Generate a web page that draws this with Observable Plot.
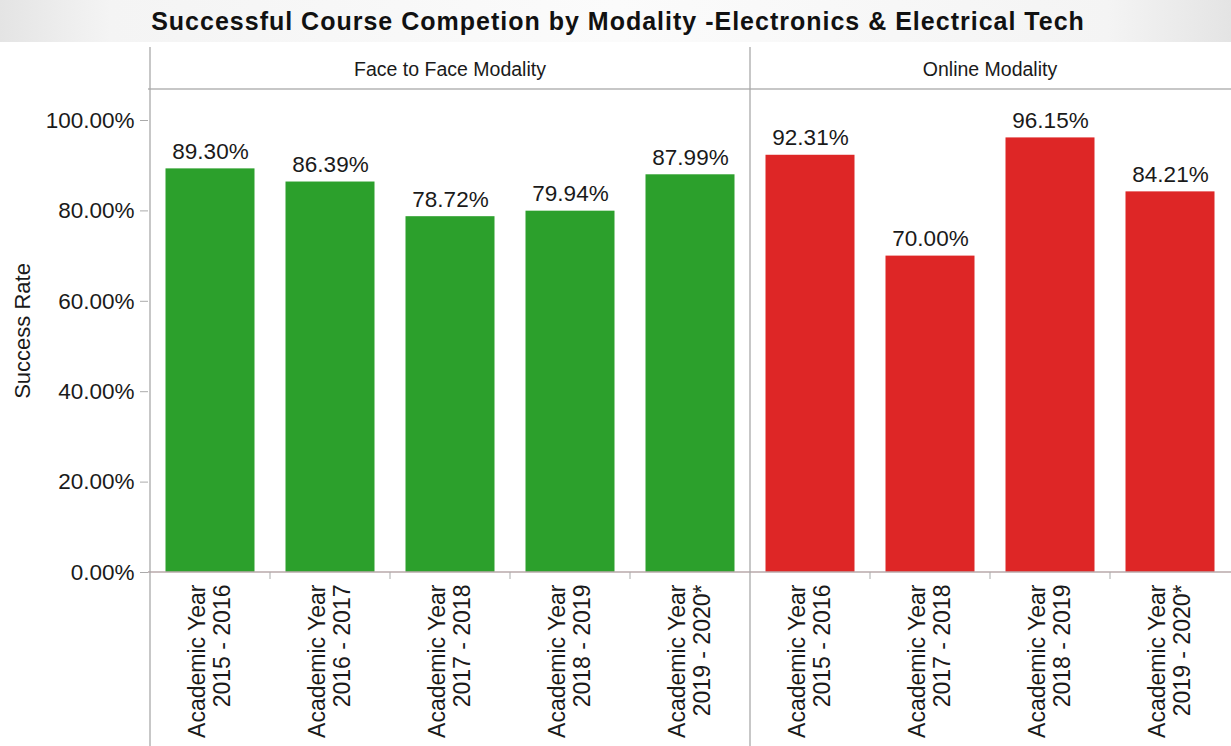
<!DOCTYPE html>
<html>
<head>
<meta charset="utf-8">
<script src="https://cdn.jsdelivr.net/npm/d3@7"></script>
<script src="https://cdn.jsdelivr.net/npm/@observablehq/plot@0.6"></script>
<style>
  html, body { margin: 0; padding: 0; background: #fff; }
  body { width: 1231px; height: 746px; overflow: hidden; font-family: "Liberation Sans", Arial, sans-serif; }
  #title {
    height: 42px; line-height: 42px; text-align: center; font-weight: bold; font-size: 25px; letter-spacing: 1px; color: #111;
    background: linear-gradient(to right, #e4e4e4 0, #f4f4f4 9%, #fbfbfb 50%, #f4f4f4 90%, #e4e4e4 100%);
    padding-left: 5px; box-sizing: border-box;
  }
  #chart svg { display: block; }
</style>
</head>
<body>
<div id="title">Successful Course Competion by Modality -Electronics &amp; Electrical Tech</div>
<div id="chart"></div>
<script>
// ---- data ----
const modalities = ["Face to Face Modality", "Online Modality"];
const faceYears = ["2015 - 2016", "2016 - 2017", "2017 - 2018", "2018 - 2019", "2019 - 2020*"];
const faceRates = [89.30, 86.39, 78.72, 79.94, 87.99];
const onlineYears = ["2015 - 2016", "2017 - 2018", "2018 - 2019", "2019 - 2020*"];
const onlineRates = [92.31, 70.00, 96.15, 84.21];
const yTicks = [0, 20, 40, 60, 80, 100];
const yLabel = "Success Rate";
const yearPrefix = "Academic Year";
const colors = ["#2ca02c", "#de2626"];

const data = [
  ...faceYears.map((yr, i) => ({mod: modalities[0], year: yr, rate: faceRates[i]})),
  ...onlineYears.map((yr, i) => ({mod: modalities[1], year: yr, rate: onlineRates[i]}))
].map(d => ({...d, key: d.mod + "|" + d.year}));
const keys = data.map(d => d.key);

const font = "'Liberation Sans', Arial, sans-serif";

function frame(index, scales, values, dims) {
  const {width, height, marginLeft, marginTop, marginBottom} = dims;
  const x = scales.x;
  const bw = x.bandwidth();
  const y0 = height - marginBottom;
  const top = 5;
  const g = d3.create("svg:g");
  const groups = modalities.map(m => {
    const ks = data.filter(d => d.mod === m).map(d => d.key);
    return {m, ks, a: x(ks[0]), b: x(ks[ks.length - 1]) + bw};
  });
  // header bottom line
  g.append("line").attr("x1", marginLeft).attr("x2", width).attr("y1", marginTop).attr("y2", marginTop)
    .attr("stroke", "#b4b4b4").attr("stroke-width", 1.3);
  // x axis line
  g.append("line").attr("x1", marginLeft).attr("x2", width).attr("y1", y0).attr("y2", y0)
    .attr("stroke", "#b8a8aa").attr("stroke-width", 1.3);
  groups.forEach(({m, ks, a, b}) => {
    g.append("line").attr("x1", a).attr("x2", a).attr("y1", top).attr("y2", height)
      .attr("stroke", "#a9a9a9").attr("stroke-width", 1.3);
    ks.slice(1).forEach(k => {
      g.append("line").attr("x1", x(k)).attr("x2", x(k)).attr("y1", y0).attr("y2", y0 + 7)
        .attr("stroke", "#aaa").attr("stroke-width", 1);
    });
    g.append("text").attr("x", (a + b) / 2).attr("y", (top + marginTop) / 2 + 1)
      .attr("text-anchor", "middle").attr("dominant-baseline", "central")
      .attr("font-size", 19.5).attr("font-family", font).attr("fill", "#1a1a1a").text(m);
  });
  return g.node();
}

const chart = Plot.plot({
  width: 1231,
  height: 704,
  marginLeft: 148,
  marginRight: 0,
  marginTop: 47,
  marginBottom: 174,
  style: {fontFamily: font, color: "#1a1a1a", background: "transparent"},
  x: {type: "band", domain: keys, padding: 0, axis: null},
  y: {domain: [0, 106.86], label: null, axis: null},
  color: {domain: modalities, range: colors},
  marks: [
    Plot.barY(data, {x: "key", y: "rate", fill: "mod", insetLeft: 15.5, insetRight: 15.5}),
    Plot.axisY(yTicks, {tickFormat: d => d.toFixed(2) + "%", tickSize: 8, tickPadding: 6, fontSize: 22.5, stroke: "#aaa", label: null}),
    Plot.text([yLabel], {frameAnchor: "left", textAnchor: "middle", rotate: -90, dx: -126, fontSize: 22, fill: "#1a1a1a"}),
    Plot.text(data, {x: "key", y: "rate", text: d => d.rate.toFixed(2) + "%", lineAnchor: "bottom", dy: -10, fontSize: 22.5, fill: "#1a1a1a"}),
    Plot.text(data, {x: "key", frameAnchor: "bottom", text: d => yearPrefix + "\n" + d.year, rotate: -90, textAnchor: "end", lineAnchor: "middle", lineHeight: 1.1, dy: 12, dx: -1, fontSize: 23, fill: "#1a1a1a"}),
    frame
  ]
});
document.getElementById("chart").appendChild(chart);
</script>
</body>
</html>
